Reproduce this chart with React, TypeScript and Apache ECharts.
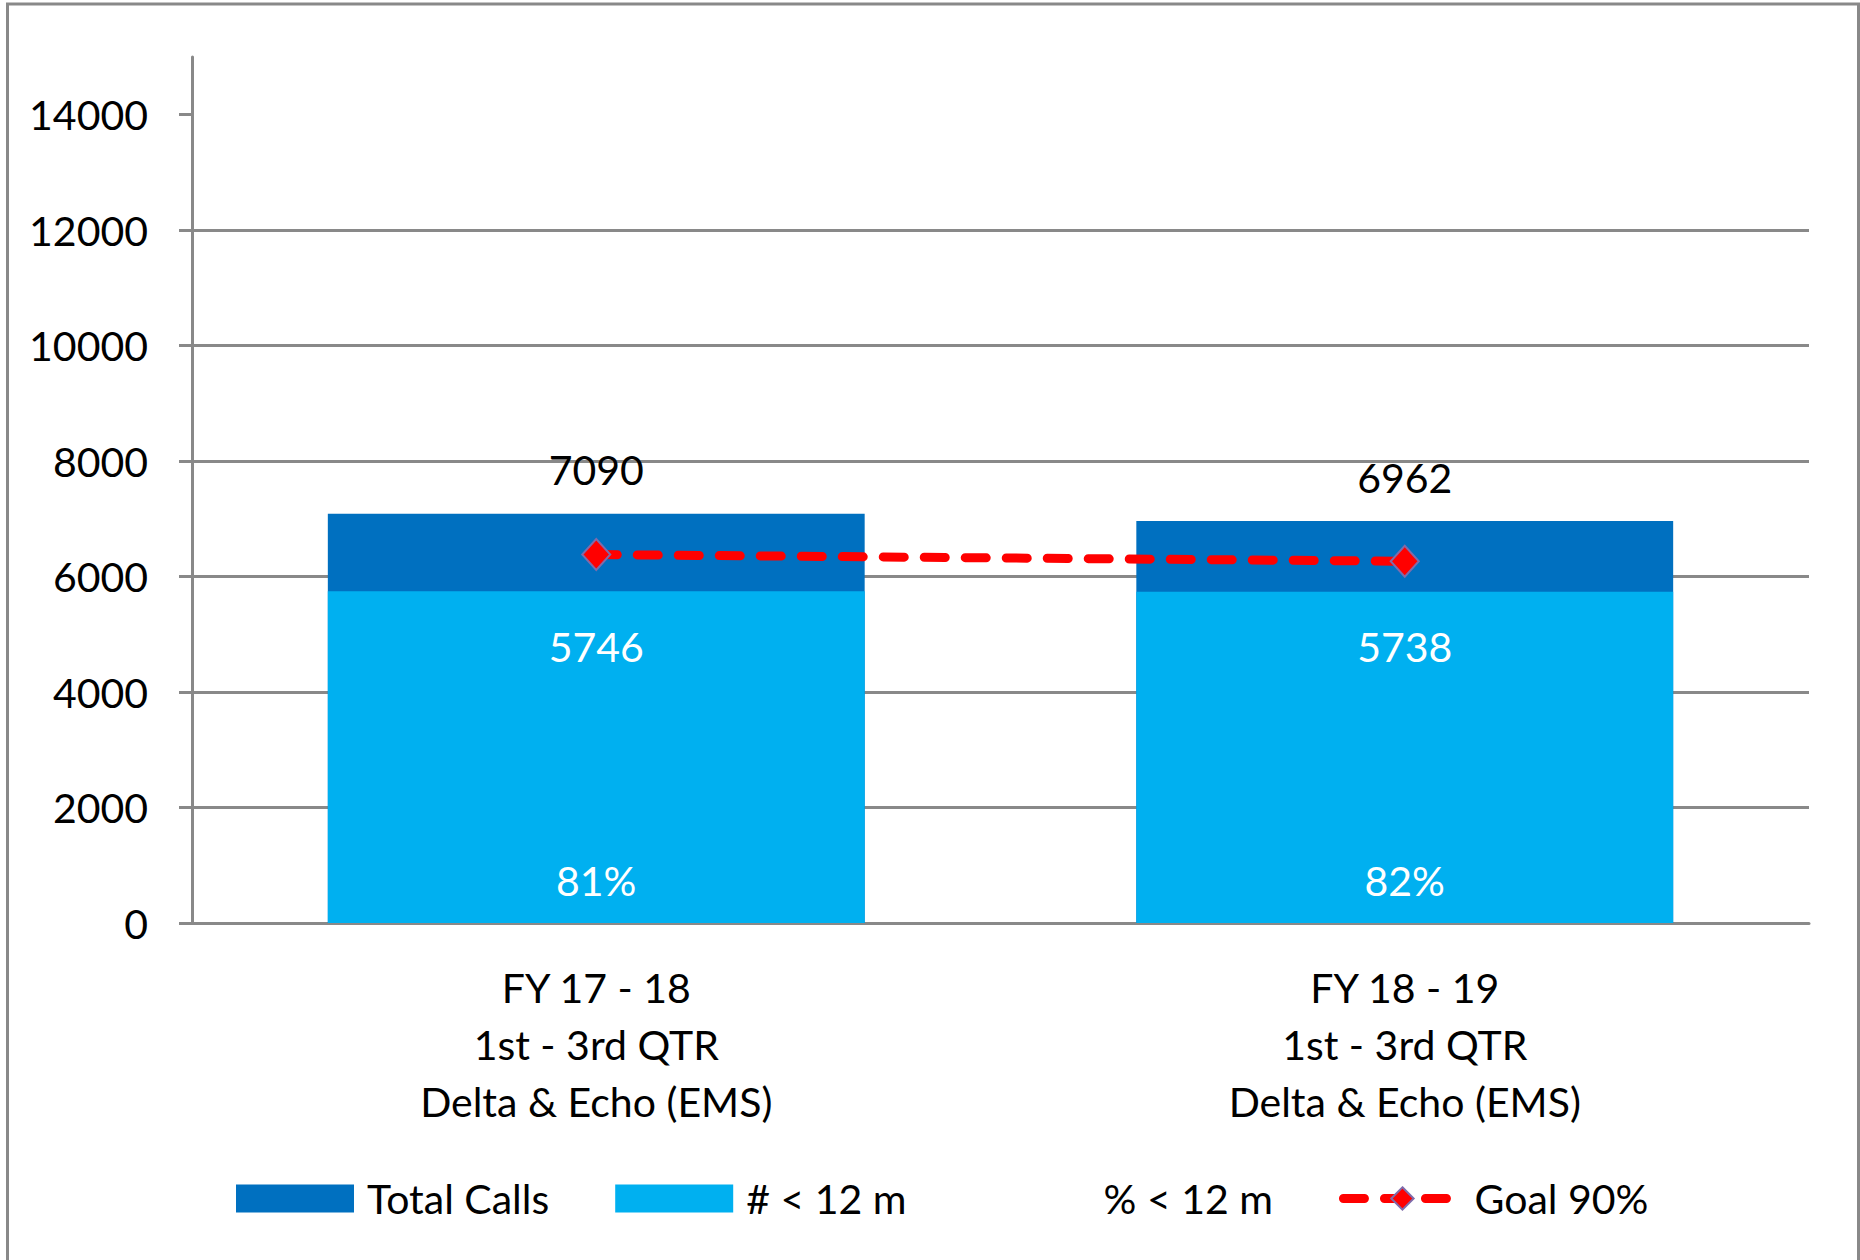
import React, { useEffect, useRef } from "react";
import * as echarts from "echarts";

const categories = [
  "FY 17 - 18\n1st - 3rd QTR\nDelta & Echo (EMS)",
  "FY 18 - 19\n1st - 3rd QTR\nDelta & Echo (EMS)",
];
const totalCalls = [7090, 6962];
const under12 = [5746, 5738];
const pctUnder12 = [0.81, 0.82];
const goal90 = [6381, 6266];
const yTicks = [0, 2000, 4000, 6000, 8000, 10000, 12000, 14000];
const seriesNames = ["Total Calls", "# < 12 m", "% < 12 m", "Goal 90%"];

const FONT = "Lato";
const FS = 41;
const GRAY = "#898989";
const DARK = "#0070C0";
const LIGHT = "#00B0F0";
const RED = "#FF0000";

export default function App() {
  const ref = useRef<HTMLDivElement>(null);
  useEffect(() => {
    document.body.style.margin = "0";
    const chart = echarts.init(ref.current!, null, { renderer: "svg" });
    chart.setOption({
      animation: false,
      backgroundColor: "#ffffff",
      textStyle: { fontFamily: FONT, color: "#000" },
      graphic: [
        {
          type: "rect",
          silent: true,
          z: -1,
          shape: { x: 7.5, y: 4, width: 1851, height: 1300 },
          style: { fill: "none", stroke: GRAY, lineWidth: 3 },
        },
      ],
      grid: { left: 192, right: 51, top: 57, bottom: 337 },
      legend: {
        left: 236,
        top: 1178,
        padding: 0,
        itemWidth: 118,
        itemHeight: 28,
        itemGap: 66,
        selectedMode: false,
        data: [
          { name: seriesNames[0], icon: "rect" },
          { name: seriesNames[1], icon: "rect" },
          { name: seriesNames[2] },
          {
            name: seriesNames[3],
            lineStyle: { color: RED, width: 9, type: [21, 20], cap: "round" },
          },
        ],
        textStyle: {
          fontFamily: FONT,
          fontSize: FS,
          color: "#000",
          padding: [0, 0, 0, 8],
        },
      },
      xAxis: {
        type: "category",
        data: categories,
        axisLine: { lineStyle: { color: GRAY, width: 3 } },
        axisTick: { length: 17, lineStyle: { color: GRAY, width: 3 } },
        axisLabel: {
          fontFamily: FONT,
          fontSize: FS,
          lineHeight: 57,
          color: "#000",
          margin: 36,
          interval: 0,
        },
        splitLine: { show: false },
      },
      yAxis: {
        type: "value",
        min: 0,
        max: 15000,
        interval: 2000,
        axisLine: { show: true, lineStyle: { color: GRAY, width: 3 } },
        axisTick: {
          show: true,
          length: 13,
          customValues: yTicks,
          lineStyle: { color: GRAY, width: 3 },
        },
        axisLabel: {
          fontFamily: FONT,
          fontSize: FS,
          color: "#000",
          margin: 44,
          customValues: yTicks,
          formatter: (v: number) => String(v),
        },
        splitLine: { show: true, showMaxLine: false, lineStyle: { color: GRAY, width: 3 } },
      },
      series: [
        {
          name: seriesNames[0],
          type: "bar",
          data: totalCalls,
          barWidth: "66.4%",
          barGap: "-100%",
          itemStyle: { color: DARK },
          label: {
            show: true,
            position: "top",
            distance: 21,
            fontFamily: FONT,
            fontSize: FS,
            lineHeight: 46,
            color: "#000",
          },
        },
        {
          name: seriesNames[1],
          type: "bar",
          data: under12,
          barWidth: "66.4%",
          barGap: "-100%",
          itemStyle: { color: LIGHT },
          label: {
            show: true,
            position: "insideTop",
            distance: 32,
            fontFamily: FONT,
            fontSize: FS,
            lineHeight: 46,
            color: "#fff",
          },
        },
        {
          name: seriesNames[2],
          type: "line",
          data: pctUnder12,
          symbol: "circle",
          symbolSize: 1,
          itemStyle: { color: "rgba(0,0,0,0)" },
          lineStyle: { opacity: 0, width: 0 },
          z: 5,
          label: {
            show: true,
            position: "top",
            distance: 19,
            fontFamily: FONT,
            fontSize: FS,
            lineHeight: 46,
            color: "#fff",
            formatter: (p: any) => Math.round(p.value * 100) + "%",
          },
        },
        {
          name: seriesNames[3],
          type: "line",
          data: goal90,
          symbol: "diamond",
          symbolSize: [28, 31],
          z: 6,
          itemStyle: { color: RED, borderColor: "#7F6BAA", borderWidth: 2 },
          lineStyle: { color: RED, width: 9, type: [21, 20], cap: "round" },
          label: { show: false },
        },
      ],
    });
    return () => chart.dispose();
  }, []);
  return <div ref={ref} style={{ width: 1860, height: 1260 }} />;
}
